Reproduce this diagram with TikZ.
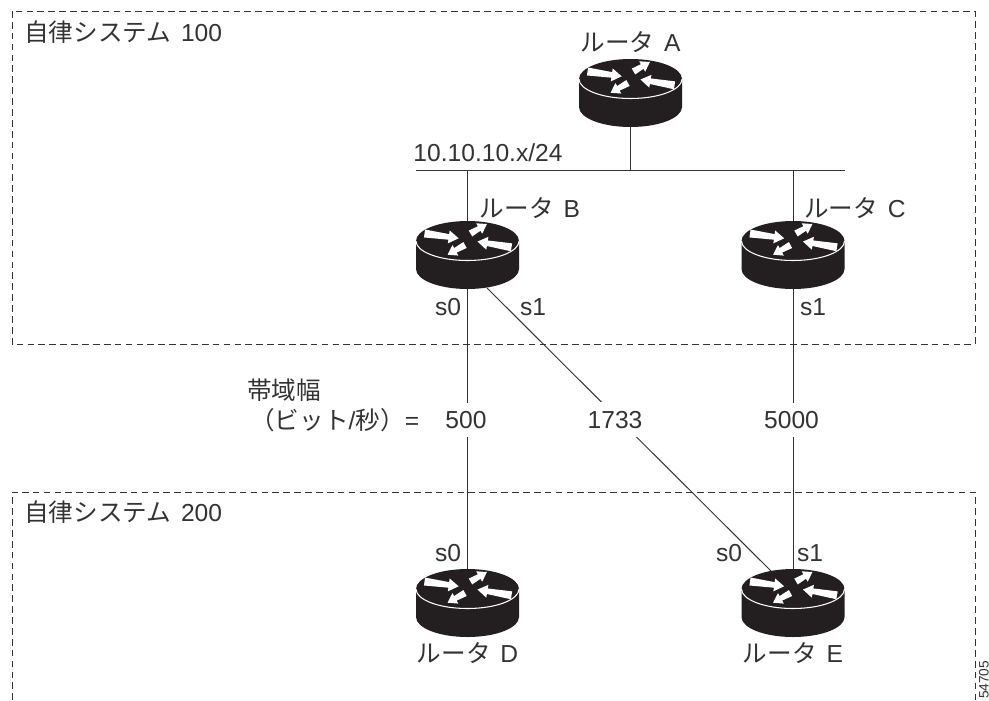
\documentclass[tikz,border=0pt]{standalone}
\usepackage{fontspec}
\setmainfont{Liberation Sans}
\newfontfamily\cjk{Noto Sans CJK JP}
\usetikzlibrary{positioning, calc}

\definecolor{routerblack}{HTML}{231F20}
\definecolor{inkgray}{HTML}{333333}

\newcommand{\rname}[1]{{\cjk ルータ}\hspace{0.4em}#1}
\newcommand{\asname}[1]{{\cjk 自律システム}\hspace{0.4em}#1}

\begin{document}
\begin{tikzpicture}[x=0.02cm, y=-0.02cm]
		\tikzset{
			routerbox/.style={minimum width=2.06cm, minimum height=1.34cm, inner sep=0pt},
			txt/.style={inner sep=0pt, text=inkgray, font=\fontsize{14}{16}\selectfont},
			rate/.style={txt, fill=white, inner xsep=1pt, inner ysep=4.8pt},
			link/.style={draw=inkgray, line width=0.55pt},
			as/.style={draw=inkgray, line width=0.45pt, dash pattern=on 3.8pt off 2.4pt},
			router/.pic={
				\fill[routerblack] (-51.5,-14.5) -- (-51.5,13.5) arc[start angle=180, end angle=0, x radius=51.5, y radius=20] -- (51.5,-14.5) arc[start angle=0, end angle=-180, x radius=51.5, y radius=20] -- cycle;
				\draw[white, line width=0.6pt] (-51.5,-14.5) arc[start angle=180, end angle=0, x radius=51.5, y radius=19.5];
				% white arrows on the lid
				\foreach \tx/\ty/\rot/\len/\tw/\sw/\hw/\hl in {-43/-22/-8/34.5/4/2.8/6.5/10, 3/-22/30/19/3.4/2.6/6/9, 44/-8.2/-189.6/34.5/4/2.8/6.5/10, -2.5/-10.5/-151/20/3.4/2.6/6/9}
					\fill[white, shift={(\tx,\ty)}, rotate=\rot] (0,-\tw) -- ({\len-\hl},-\sw) -- ({\len-\hl},-\hw) -- (\len,0) -- ({\len-\hl},\hw) -- ({\len-\hl},\sw) -- (0,\tw) -- cycle;
			}
		}
		
		\useasboundingbox (0,0) rectangle (989,700);
		
		% Autonomous system borders
		\draw[as] (12,11) rectangle (975,344);
		\draw[as] (12,700) -- (12,492) -- (975,492) -- (975,700);
		
		% Routers
		\node[routerbox] (ra) at (630.5,93.5) {};
		\node[routerbox] (rb) at (467.5,255.5) {};
		\node[routerbox] (rc) at (793,255.5) {};
		\node[routerbox] (rd) at (467.5,603.5) {};
		\node[routerbox] (re) at (793,603.5) {};
		
		% LAN segment
		\coordinate (lanl) at (416,170);
		\coordinate (lanr) at (845,170);
		\coordinate (diagb) at (487,288);
		\coordinate (diage) at (781,581);
		\draw[link] (lanl) -- (lanr);
		\draw[link] (ra.south) -- (ra.south |- lanl);
		\draw[link] (rb.north) -- (rb.north |- lanl);
		\draw[link] (rc.north) -- (rc.north |- lanl);
		
		% Serial links with their bandwidth
		\draw[link] (rb.south) -- node[rate, pos=0.466, xshift=-0.03cm] {500} (rd.north);
		\draw[link] (diagb) -- node[rate, pos=0.449, xshift=-0.08cm] {1733} (diage);
		\draw[link] (rc.south) -- node[rate, pos=0.466, xshift=-0.03cm] {5000} (re.north);
		
		% Router icons go over the link ends
		\pic at (ra) {router};
		\pic at (rb) {router};
		\pic at (rc) {router};
		\pic at (rd) {router};
		\pic at (re) {router};
		
		% Router names
		\node[txt, above=0.13cm of ra] (la) {\rname{A}};
		\node[txt] (lb) at (530,208) {\rname{B}};
		\node[txt] (lc) at (855,208) {\rname{C}};
		\node[txt, below=0.1cm of rd] (ld) {\rname{D}};
		\node[txt, below=0.1cm of re] (le) {\rname{E}};
		
		% Interfaces
		\node[txt] (bs0) at (448,307) {s0};
		\node[txt] (bs1) at (533,307) {s1};
		\node[txt] (cs1) at (813,307) {s1};
		\node[txt] (ds0) at (448,553) {s0};
		\node[txt] (es0) at (729,553) {s0};
		\node[txt] (es1) at (810,553) {s1};
		
		% Annotations
		\node[txt] (lan) at (488,153) {10.10.10.x/24};
		\node[txt, anchor=west] (as100) at (24,32) {\asname{100}};
		\node[txt, anchor=west] (as200) at (24,512) {\asname{200}};
		\node[txt, anchor=west] (bw1) at (247,390) {{\cjk 帯域幅}};
		\node[txt, anchor=west] (bw2) at (250,420) {{\cjk （ビット}/{\cjk 秒）}=};
		\node[inner sep=0pt, text=inkgray, font=\fontsize{7.8}{10}\selectfont, rotate=90, anchor=east] (fig) at (984,660.5) {54705};
		
	\end{tikzpicture}
\end{document}
